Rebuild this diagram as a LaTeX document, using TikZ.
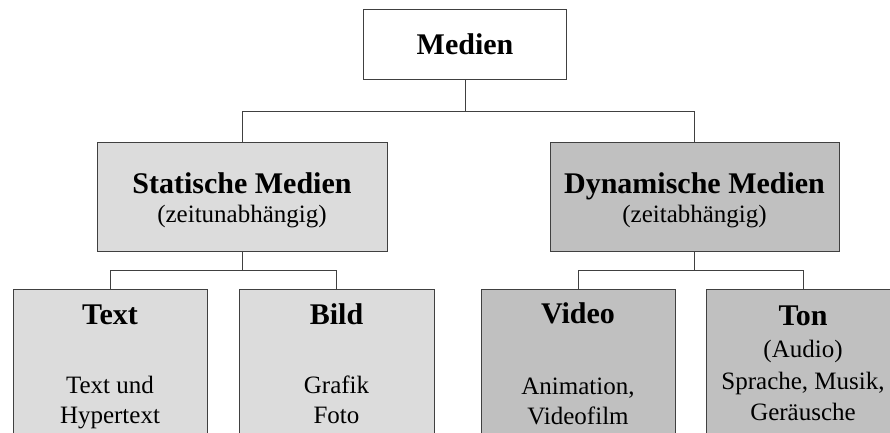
\documentclass[tikz,border=0pt]{standalone}
\usepackage{fontspec}
\setmainfont{Liberation Serif}
\definecolor{rand}{HTML}{404040}
\definecolor{hell}{HTML}{DCDCDC}
\definecolor{dunkel}{HTML}{C0C0C0}
\tikzset{
	kasten/.style={draw=rand,line width=1pt,inner sep=0pt},
	titel/.style={font=\fontsize{30}{34}\selectfont\bfseries,anchor=base,inner sep=0pt},
	zeile/.style={font=\fontsize{25}{30}\selectfont,anchor=base,inner sep=0pt},
	linie/.style={draw=rand,line width=1pt}
}
\begin{document}
\begin{tikzpicture}[x=1pt,y=-1pt]
		\useasboundingbox (0,0) rectangle (890,432);
		\fill[white] (0,0) rectangle (890,432);
		\clip (0,0) rectangle (890,432);
		% Kaesten
		\node[kasten,fill=white,minimum width=203pt,minimum height=70pt,font=\fontsize{30}{34}\selectfont\bfseries] (medien) at (465,44) {Medien};
		\node[kasten,fill=hell,minimum width=290pt,minimum height=109pt] (statisch) at (242,196.5) {};
		\node[kasten,fill=dunkel,minimum width=289pt,minimum height=109pt] (dynamisch) at (694.5,196.5) {};
		\node[kasten,fill=hell,minimum width=194pt,minimum height=171pt,anchor=north] (txt) at (110,289) {};
		\node[kasten,fill=hell,minimum width=195pt,minimum height=171pt,anchor=north] (bild) at (336.5,289) {};
		\node[kasten,fill=dunkel,minimum width=194pt,minimum height=171pt,anchor=north] (video) at (578,289) {};
		\node[kasten,fill=dunkel,minimum width=194pt,minimum height=171pt,anchor=north] (ton) at (803,289) {};
		% Linien
		\draw[linie] (medien.south) -- ++(0,32) coordinate (gabel1);
		\draw[linie] (statisch.north) |- (gabel1) -| (dynamisch.north);
		\draw[linie] (statisch.south) -- ++(0,19) coordinate (gabel2);
		\draw[linie] (txt.north) |- (gabel2) -| (bild.north);
		\draw[linie] (dynamisch.south) -- ++(0,19) coordinate (gabel3);
		\draw[linie] (video.north) |- (gabel3) -| (ton.north);
		% Beschriftung
		\node[titel] (statisch-t) at (242,193) {Statische Medien};
		\node[zeile] (statisch-z) at (242,222) {(zeitunabhängig)};
		\node[titel] (dynamisch-t) at (694.5,193) {Dynamische Medien};
		\node[zeile] (dynamisch-z) at (694.5,222) {(zeitabhängig)};
		\node[titel] (txt-t) at (110,324) {Text};
		\node[zeile] (txt-z1) at (110,393) {Text und};
		\node[zeile] (txt-z2) at (110,423) {Hypertext};
		\node[titel] (bild-t) at (336.5,324) {Bild};
		\node[zeile] (bild-z1) at (336.5,393) {Grafik};
		\node[zeile] (bild-z2) at (336.5,423) {Foto};
		\node[titel] (video-t) at (578,323) {Video};
		\node[zeile] (video-z1) at (578,394) {Animation,};
		\node[zeile] (video-z2) at (578,424) {Videofilm};
		\node[titel] (ton-t) at (803,325) {Ton};
		\node[zeile] (ton-z1) at (803,357) {(Audio)};
		\node[zeile] (ton-z2) at (803,389) {Sprache, Musik,};
		\node[zeile] (ton-z3) at (803,420) {Geräusche};
\end{tikzpicture}
\end{document}
